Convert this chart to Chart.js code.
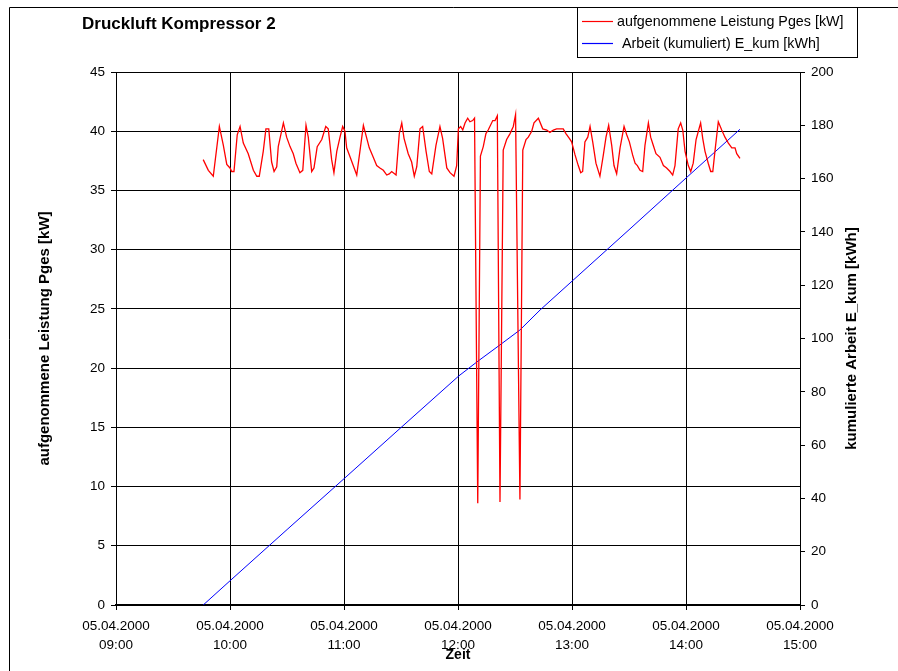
<!DOCTYPE html>
<html>
<head>
<meta charset="utf-8">
<script src="https://cdn.jsdelivr.net/npm/chart.js@4.4.1/dist/chart.umd.min.js"></script>
<style>
  body { margin: 0; background: #fff; }
  canvas { display: block; }
</style>
</head>
<body>
<canvas id="chart" width="898" height="671"></canvas>
<script>
// minutes after 09:00 on 05.04.2000
const powerTimes = [
  45.9, 48.6, 51.2, 54.4, 56.5, 58.3, 60.0, 60.9, 62.1, 63.8, 65.3, 67.0, 69.6, 72.3, 74.1, 75.4,
  77.5, 78.9, 80.4, 81.9, 83.2, 84.6, 85.4, 88.1, 89.8, 91.6, 93.3, 94.7, 96.8, 98.3, 100.0, 101.2,
  103.0, 104.2, 105.9, 108.3, 110.4, 111.7, 113.5, 114.7, 116.2, 117.9, 119.3, 120.5, 121.4, 123.5,
  126.7, 130.2, 133.3, 135.4, 137.2, 138.9, 140.7, 142.5, 143.8, 145.1, 147.4, 149.1, 150.4, 151.6,
  153.8, 155.6, 157.0, 158.3, 160.0, 161.4, 163.2, 164.9, 166.2, 168.4, 170.5, 171.9, 174.1, 175.8,
  177.9, 179.3, 180.2, 181.4, 182.5, 183.7, 185.1, 186.3, 187.7, 188.7, 190.4, 191.8, 193.3, 194.7,
  195.9, 198.3, 199.5, 200.7, 202.1, 203.8, 205.6, 207.4, 209.1, 210.3, 212.6, 214.1, 215.8, 217.0,
  218.8, 220.0, 222.3, 224.6, 226.7, 228.4, 230.2, 231.9, 235.4, 236.8, 238.6, 239.8, 241.6, 243.3,
  244.6, 245.6, 246.8, 248.3, 249.5, 250.9, 252.6, 254.7, 256.5, 257.9, 259.3, 260.9, 262.1, 263.5,
  265.3, 267.4, 268.8, 270.2, 271.9, 273.2, 274.4, 275.8, 277.2, 278.4, 280.2, 281.4, 282.8, 284.2,
  286.3, 288.1, 289.8, 291.6, 293.0, 294.2, 295.9, 297.2, 298.3, 299.5, 301.2, 302.5, 303.8, 305.3,
  306.5, 307.7, 308.8, 310.0, 311.7, 313.0, 314.1, 315.3, 317.0, 318.8, 320.5, 322.3, 324.1, 325.8,
  326.7, 328.4
];
const powerValues = [
  37.6, 36.7, 36.2, 40.4, 38.8, 37.2, 36.9, 36.6, 36.6, 39.7, 40.4, 39.0, 38.1, 36.7, 36.2, 36.2,
  38.3, 40.2, 40.2, 37.4, 36.6, 37.0, 38.7, 40.7, 39.5, 38.7, 38.1, 37.3, 36.5, 36.7, 40.5, 39.5,
  36.6, 36.9, 38.7, 39.3, 40.4, 40.2, 37.6, 36.5, 38.3, 39.5, 40.4, 40.0, 38.6, 37.7,
  36.3, 40.5, 38.6, 37.8, 37.1, 36.9, 36.7, 36.3, 36.4, 36.6, 36.3, 39.8, 40.7, 39.4,
  38.1, 37.4, 36.2, 37.0, 40.2, 40.4, 38.3, 36.6, 36.4, 38.8, 40.4, 39.4, 36.9, 36.5,
  36.2, 37.1, 40.2, 40.4, 40.1, 40.7, 41.1, 40.8, 40.9, 41.1, 8.6, 37.9, 38.7, 39.8,
  40.1, 40.9, 40.9, 41.3, 8.7, 38.4, 39.3, 39.8, 40.4, 41.4, 8.9, 38.4, 39.3, 39.5,
  40.0, 40.7, 41.1, 40.2, 40.1, 39.9, 40.1, 40.2, 40.2, 39.8, 39.4, 39.1, 38.0, 37.1,
  36.5, 36.6, 39.1, 39.5, 40.4, 39.1, 37.3, 36.2, 38.0, 39.5, 40.5, 38.8, 37.1, 36.4,
  38.6, 40.4, 39.7, 39.1, 38.0, 37.3, 37.1, 36.7, 36.6, 38.8, 40.7, 39.5, 38.8, 38.1,
  37.8, 37.1, 36.9, 36.6, 36.3, 37.1, 40.2, 40.7, 40.1, 38.3, 37.1, 36.6, 37.3, 39.3,
  40.0, 40.7, 39.4, 38.3, 37.3, 36.6, 36.6, 38.4, 40.8, 40.1, 39.5, 39.0, 38.6, 38.6,
  38.1, 37.7
];
const energyTimes = [45.9, 60.5, 90.5, 120.5, 150.5, 180.5, 190.5, 202.1, 212.6, 223.2, 240, 270, 300, 328.4];
const energyValues = [0, 9.4, 28.6, 47.7, 66.9, 86.0, 91.5, 97.6, 103.2, 110.7, 121.5, 140.8, 160.2, 178.5];

const dateLabel = "05.04.2000";
const hourLabels = ["09:00", "10:00", "11:00", "12:00", "13:00", "14:00", "15:00"];

const FONT = "'Liberation Sans', Arial, sans-serif";
const RED = "#ff0000";
const BLUE = "#0000ff";

const powerData = powerTimes.map((t, i) => ({ x: t, y: powerValues[i] }));
const energyData = energyTimes.map((t, i) => ({ x: t, y: energyValues[i] }));

// frame, title, legend and right axis title in Excel style
const excelDecor = {
  id: "excelDecor",
  beforeDraw(chart) {
    const ctx = chart.ctx;
    ctx.save();
    ctx.fillStyle = "#fff";
    ctx.fillRect(0, 0, chart.width, chart.height);
    ctx.restore();
  },
  afterDraw(chart) {
    const ctx = chart.ctx;
    ctx.save();
    ctx.setLineDash([]);
    ctx.lineWidth = 1;
    ctx.strokeStyle = "#000";
    ctx.beginPath();
    ctx.moveTo(9.5, chart.height);
    ctx.lineTo(9.5, 7.5);
    ctx.lineTo(chart.width, 7.5);
    ctx.stroke();

    // title
    ctx.fillStyle = "#000";
    ctx.font = "bold 17px " + FONT;
    ctx.textBaseline = "middle";
    ctx.textAlign = "left";
    ctx.fillText("Druckluft Kompressor 2", 82, 24);

    // legend box
    ctx.fillStyle = "#fff";
    ctx.fillRect(577.5, 7.5, 280, 50);
    ctx.strokeStyle = "#000";
    ctx.strokeRect(577.5, 7.5, 280, 50);
    ctx.font = "14.3px " + FONT;
    const items = chart.data.datasets;
    const colors = [RED, BLUE];
    const rows = [21, 43];
    const textX = [617, 622];
    items.forEach((ds, i) => {
      ctx.beginPath();
      ctx.strokeStyle = colors[i];
      ctx.lineWidth = 1.2;
      ctx.moveTo(582, rows[i] + 0.5);
      ctx.lineTo(613, rows[i] + 0.5);
      ctx.stroke();
      ctx.fillStyle = "#000";
      ctx.fillText(ds.label, textX[i], rows[i] + 1);
    });

    // right axis title, reading bottom to top
    const a = chart.chartArea;
    ctx.translate(852, (a.top + a.bottom) / 2);
    ctx.rotate(-Math.PI / 2);
    ctx.textAlign = "center";
    ctx.fillStyle = "#000";
    ctx.font = "bold 15px " + FONT;
    ctx.fillText("kumulierte Arbeit E_kum [kWh]", 0, 0);
    ctx.restore();
  }
};

new Chart(document.getElementById("chart"), {
  type: "line",
  data: {
    datasets: [
      {
        label: "aufgenommene Leistung Pges [kW]",
        data: powerData,
        borderColor: RED,
        borderWidth: 1.3,
        yAxisID: "y",
      },
      {
        label: "Arbeit (kumuliert) E_kum [kWh]",
        data: energyData,
        borderColor: BLUE,
        borderWidth: 1,
        yAxisID: "y1",
      },
    ],
  },
  options: {
    responsive: false,
    animation: false,
    layout: { padding: { top: 72, left: 0, right: 0, bottom: 0 } },
    elements: { point: { radius: 0 }, line: { tension: 0 } },
    plugins: {
      legend: { display: false },
      title: { display: false },
      tooltip: { enabled: false },
    },
    scales: {
      x: {
        type: "linear",
        min: 0,
        max: 360,
        ticks: {
          stepSize: 12,
          autoSkip: false,
          maxRotation: 0,
          padding: 7,
          color: "#000",
          font: { family: FONT, size: 13.5, lineHeight: 1.4 },
          callback: (v) => (v % 60 === 0 ? [dateLabel, hourLabels[v / 60]] : null),
        },
        grid: {
          color: (c) => (c.tick && c.tick.value % 60 === 0 ? "#000" : "rgba(0,0,0,0)"),
          tickColor: "#000",
          tickLength: 5,
        },
        border: { color: "#000", width: 2 },
        title: {
          display: true,
          text: "Zeit",
          color: "#000",
          font: { family: FONT, size: 14, weight: "bold" },
          padding: { top: 0, bottom: 7 },
        },
        afterFit: (s) => { s.height = 66; },
      },
      y: {
        position: "left",
        min: 0,
        max: 45,
        ticks: {
          stepSize: 5,
          padding: 6,
          color: "#000",
          font: { family: FONT, size: 13.5 },
        },
        grid: { color: "#000", tickColor: "#000", tickLength: 5 },
        border: { color: "#000" },
        title: {
          display: true,
          text: "aufgenommene Leistung Pges [kW]",
          color: "#000",
          font: { family: FONT, size: 15, weight: "bold" },
          padding: { top: 36, bottom: 0 },
        },
        afterFit: (s) => { s.width = 116; },
      },
      y1: {
        position: "right",
        min: 0,
        max: 200,
        ticks: {
          stepSize: 20,
          padding: 6,
          color: "#000",
          font: { family: FONT, size: 13.5 },
        },
        grid: { drawOnChartArea: false, color: "#000", tickColor: "#000", tickLength: 5 },
        border: { color: "#000" },
        afterFit: (s) => { s.width = 98; },
      },
    },
  },
  plugins: [excelDecor],
});
</script>
</body>
</html>
